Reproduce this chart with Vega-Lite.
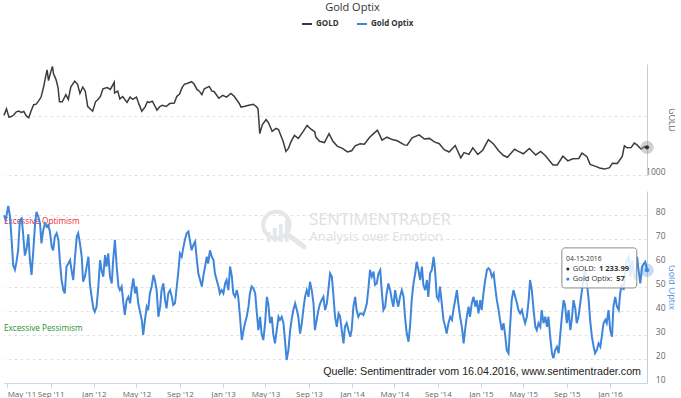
{
"$schema": "https://vega.github.io/schema/vega-lite/v6.json",
"background": "white",
"padding": {"left": 0, "top": 2, "right": 0, "bottom": 0},
"title": {"text": "Gold Optix", "fontSize": 11, "font": "Open Sans", "fontWeight": "normal", "color": "#333333", "anchor": "middle", "frame": "group", "dx": 27, "offset": 5},
"config": {"view": {"stroke": null}, "font": "Open Sans", "axis": {"labelFont": "Open Sans", "titleFont": "Open Sans", "labelOverlap": false, "labelBound": false}, "legend": {"labelFont": "Open Sans"}},
"spacing": 15,
"datasets": {
"gold": [
{"date":"2011-04-22","v":1505},{"date":"2011-04-29","v":1560},{"date":"2011-05-06","v":1490},{"date":"2011-05-13","v":1495},{"date":"2011-05-20","v":1510},{"date":"2011-05-27","v":1535},{"date":"2011-06-03","v":1542},{"date":"2011-06-10","v":1530},{"date":"2011-06-17","v":1538},{"date":"2011-06-24","v":1500},{"date":"2011-07-01","v":1485},{"date":"2011-07-08","v":1545},{"date":"2011-07-15","v":1595},{"date":"2011-07-22","v":1600},{"date":"2011-07-29","v":1628},{"date":"2011-08-05","v":1660},{"date":"2011-08-12","v":1745},{"date":"2011-08-19","v":1850},{"date":"2011-08-22","v":1890},{"date":"2011-08-26","v":1800},{"date":"2011-09-02","v":1880},{"date":"2011-09-06","v":1920},{"date":"2011-09-09","v":1860},{"date":"2011-09-16","v":1810},{"date":"2011-09-22","v":1740},{"date":"2011-09-26","v":1620},{"date":"2011-10-04","v":1620},{"date":"2011-10-14","v":1680},{"date":"2011-10-21","v":1640},{"date":"2011-10-28","v":1745},{"date":"2011-11-08","v":1795},{"date":"2011-11-16","v":1770},{"date":"2011-11-23","v":1690},{"date":"2011-12-01","v":1745},{"date":"2011-12-08","v":1710},{"date":"2011-12-15","v":1580},{"date":"2011-12-29","v":1540},
{"date":"2012-01-06","v":1620},{"date":"2012-01-13","v":1640},{"date":"2012-01-20","v":1665},{"date":"2012-01-27","v":1730},{"date":"2012-02-08","v":1740},{"date":"2012-02-17","v":1725},{"date":"2012-02-28","v":1785},{"date":"2012-02-29","v":1695},{"date":"2012-03-09","v":1710},{"date":"2012-03-15","v":1645},{"date":"2012-03-23","v":1665},{"date":"2012-04-04","v":1615},{"date":"2012-04-13","v":1660},{"date":"2012-04-20","v":1640},{"date":"2012-05-01","v":1660},{"date":"2012-05-08","v":1600},{"date":"2012-05-16","v":1540},{"date":"2012-05-25","v":1575},{"date":"2012-06-01","v":1620},{"date":"2012-06-06","v":1615},{"date":"2012-06-15","v":1625},{"date":"2012-06-28","v":1550},{"date":"2012-07-06","v":1580},{"date":"2012-07-13","v":1590},{"date":"2012-07-24","v":1580},{"date":"2012-08-03","v":1605},{"date":"2012-08-16","v":1610},{"date":"2012-08-23","v":1665},{"date":"2012-08-31","v":1685},{"date":"2012-09-07","v":1740},{"date":"2012-09-14","v":1770},{"date":"2012-09-21","v":1775},{"date":"2012-10-04","v":1790},{"date":"2012-10-11","v":1770},{"date":"2012-10-19","v":1725},{"date":"2012-10-26","v":1710},{"date":"2012-11-02","v":1680},{"date":"2012-11-09","v":1730},{"date":"2012-11-23","v":1750},{"date":"2012-11-30","v":1712},{"date":"2012-12-07","v":1705},{"date":"2012-12-20","v":1650},{"date":"2012-12-31","v":1675},
{"date":"2013-01-11","v":1660},{"date":"2013-01-23","v":1690},{"date":"2013-02-01","v":1668},{"date":"2013-02-15","v":1610},{"date":"2013-02-21","v":1575},{"date":"2013-03-01","v":1580},{"date":"2013-03-15","v":1590},{"date":"2013-03-28","v":1598},{"date":"2013-04-05","v":1580},{"date":"2013-04-10","v":1560},{"date":"2013-04-12","v":1480},{"date":"2013-04-15","v":1350},{"date":"2013-04-22","v":1425},{"date":"2013-05-03","v":1470},{"date":"2013-05-10","v":1440},{"date":"2013-05-20","v":1370},{"date":"2013-05-31","v":1395},{"date":"2013-06-07","v":1385},{"date":"2013-06-20","v":1285},{"date":"2013-06-28","v":1200},{"date":"2013-07-05","v":1225},{"date":"2013-07-12","v":1280},{"date":"2013-07-22","v":1335},{"date":"2013-08-02","v":1310},{"date":"2013-08-15","v":1365},{"date":"2013-08-27","v":1420},{"date":"2013-09-06","v":1390},{"date":"2013-09-18","v":1365},{"date":"2013-09-20","v":1325},{"date":"2013-10-01","v":1285},{"date":"2013-10-15","v":1275},{"date":"2013-10-28","v":1350},{"date":"2013-11-08","v":1285},{"date":"2013-11-20","v":1245},{"date":"2013-12-05","v":1225},{"date":"2013-12-19","v":1195},{"date":"2013-12-31","v":1205},
{"date":"2014-01-10","v":1247},{"date":"2014-01-24","v":1265},{"date":"2014-02-05","v":1260},{"date":"2014-02-20","v":1320},{"date":"2014-03-03","v":1350},{"date":"2014-03-14","v":1380},{"date":"2014-03-27","v":1295},{"date":"2014-04-10","v":1320},{"date":"2014-04-25","v":1300},{"date":"2014-05-09","v":1290},{"date":"2014-05-29","v":1255},{"date":"2014-06-06","v":1252},{"date":"2014-06-20","v":1315},{"date":"2014-07-10","v":1340},{"date":"2014-07-25","v":1305},{"date":"2014-08-08","v":1310},{"date":"2014-08-22","v":1280},{"date":"2014-09-05","v":1265},{"date":"2014-09-19","v":1215},{"date":"2014-10-03","v":1195},{"date":"2014-10-20","v":1250},{"date":"2014-11-05","v":1145},{"date":"2014-11-14","v":1190},{"date":"2014-11-28","v":1175},{"date":"2014-12-09","v":1230},{"date":"2014-12-23","v":1175},
{"date":"2015-01-06","v":1210},{"date":"2015-01-22","v":1300},{"date":"2015-02-05","v":1265},{"date":"2015-02-20","v":1205},{"date":"2015-03-06","v":1165},{"date":"2015-03-17","v":1150},{"date":"2015-04-06","v":1218},{"date":"2015-04-17","v":1200},{"date":"2015-05-01","v":1180},{"date":"2015-05-18","v":1225},{"date":"2015-06-05","v":1170},{"date":"2015-06-19","v":1200},{"date":"2015-07-02","v":1165},{"date":"2015-07-24","v":1085},{"date":"2015-08-05","v":1085},{"date":"2015-08-21","v":1160},{"date":"2015-09-04","v":1120},{"date":"2015-09-18","v":1137},{"date":"2015-10-05","v":1140},{"date":"2015-10-14","v":1185},{"date":"2015-10-28","v":1155},{"date":"2015-11-06","v":1090},{"date":"2015-11-20","v":1075},{"date":"2015-12-03","v":1060},{"date":"2015-12-17","v":1050},{"date":"2015-12-31","v":1062},
{"date":"2016-01-08","v":1100},{"date":"2016-01-22","v":1097},{"date":"2016-02-05","v":1158},{"date":"2016-02-11","v":1247},{"date":"2016-02-19","v":1230},{"date":"2016-03-01","v":1232},{"date":"2016-03-10","v":1270},{"date":"2016-03-18","v":1255},{"date":"2016-03-29","v":1220},{"date":"2016-04-08","v":1240},{"date":"2016-04-15","v":1233.99}
],
"optix": [
{"date":"2011-04-22","v":79.9},{"date":"2011-04-27","v":77.9},{"date":"2011-05-04","v":83.8},{"date":"2011-05-09","v":79.3},{"date":"2011-05-13","v":71.0},{"date":"2011-05-18","v":59.1},{"date":"2011-05-23","v":57.2},{"date":"2011-05-28","v":61.1},{"date":"2011-06-01","v":65.3},{"date":"2011-06-06","v":77.9},{"date":"2011-06-11","v":78.6},{"date":"2011-06-15","v":72.4},{"date":"2011-06-20","v":63.1},{"date":"2011-06-25","v":66.0},{"date":"2011-06-30","v":72.0},{"date":"2011-07-04","v":61.9},{"date":"2011-07-09","v":55.0},{"date":"2011-07-14","v":65.3},{"date":"2011-07-19","v":76.5},{"date":"2011-07-23","v":81.3},{"date":"2011-07-28","v":79.3},{"date":"2011-08-02","v":76.5},{"date":"2011-08-06","v":68.2},{"date":"2011-08-11","v":73.7},{"date":"2011-08-16","v":76.5},{"date":"2011-08-21","v":75.1},{"date":"2011-08-25","v":75.8},{"date":"2011-08-30","v":73.1},{"date":"2011-09-04","v":66.8},{"date":"2011-09-08","v":65.3},{"date":"2011-09-13","v":71.0},{"date":"2011-09-18","v":72.4},{"date":"2011-09-23","v":69.6},{"date":"2011-09-27","v":61.2},{"date":"2011-10-02","v":52.9},{"date":"2011-10-07","v":48.7},{"date":"2011-10-11","v":47.3},{"date":"2011-10-16","v":58.5},{"date":"2011-10-21","v":59.8},{"date":"2011-10-26","v":61.2},{"date":"2011-10-30","v":57.1},{"date":"2011-11-04","v":52.9},{"date":"2011-11-09","v":62.6},{"date":"2011-11-14","v":71.0},{"date":"2011-11-18","v":72.4},{"date":"2011-11-23","v":68.2},{"date":"2011-11-28","v":62.6},{"date":"2011-12-02","v":52.2},{"date":"2011-12-07","v":54.3},{"date":"2011-12-12","v":58.5},{"date":"2011-12-17","v":62.6},{"date":"2011-12-21","v":51.5},{"date":"2011-12-26","v":45.9},{"date":"2011-12-31","v":41.1},
{"date":"2012-01-04","v":39.7},{"date":"2012-01-09","v":41.8},{"date":"2012-01-14","v":50.2},{"date":"2012-01-19","v":61.2},{"date":"2012-01-23","v":57.1},{"date":"2012-01-28","v":54.3},{"date":"2012-02-02","v":63.3},{"date":"2012-02-06","v":58.5},{"date":"2012-02-11","v":64.0},{"date":"2012-02-16","v":54.3},{"date":"2012-02-21","v":51.5},{"date":"2012-02-25","v":61.2},{"date":"2012-03-01","v":69.6},{"date":"2012-03-06","v":58.5},{"date":"2012-03-11","v":50.2},{"date":"2012-03-15","v":48.7},{"date":"2012-03-20","v":50.2},{"date":"2012-03-25","v":43.2},{"date":"2012-03-29","v":38.4},{"date":"2012-04-03","v":44.5},{"date":"2012-04-08","v":45.9},{"date":"2012-04-13","v":43.2},{"date":"2012-04-17","v":48.7},{"date":"2012-04-22","v":53.6},{"date":"2012-04-27","v":47.3},{"date":"2012-05-01","v":50.2},{"date":"2012-05-06","v":43.2},{"date":"2012-05-11","v":39.7},{"date":"2012-05-16","v":36.3},{"date":"2012-05-20","v":30.0},{"date":"2012-05-25","v":36.3},{"date":"2012-05-30","v":41.8},{"date":"2012-06-03","v":40.4},{"date":"2012-06-08","v":47.3},{"date":"2012-06-13","v":50.2},{"date":"2012-06-18","v":55.0},{"date":"2012-06-22","v":52.9},{"date":"2012-06-27","v":48.7},{"date":"2012-07-02","v":37.6},{"date":"2012-07-07","v":41.8},{"date":"2012-07-11","v":48.7},{"date":"2012-07-16","v":51.5},{"date":"2012-07-21","v":44.5},{"date":"2012-07-25","v":41.1},{"date":"2012-07-30","v":47.3},{"date":"2012-08-04","v":48.7},{"date":"2012-08-09","v":45.9},{"date":"2012-08-13","v":42.5},{"date":"2012-08-18","v":43.2},{"date":"2012-08-23","v":50.2},{"date":"2012-08-27","v":55.7},{"date":"2012-09-01","v":64.0},{"date":"2012-09-06","v":62.6},{"date":"2012-09-11","v":66.8},{"date":"2012-09-15","v":69.6},{"date":"2012-09-20","v":72.4},{"date":"2012-09-25","v":73.1},{"date":"2012-09-29","v":69.6},{"date":"2012-10-04","v":65.3},{"date":"2012-10-09","v":67.5},{"date":"2012-10-14","v":68.9},{"date":"2012-10-18","v":62.6},{"date":"2012-10-23","v":55.7},{"date":"2012-10-28","v":52.9},{"date":"2012-11-02","v":50.2},{"date":"2012-11-06","v":54.3},{"date":"2012-11-11","v":58.5},{"date":"2012-11-16","v":62.6},{"date":"2012-11-20","v":59.8},{"date":"2012-11-25","v":65.3},{"date":"2012-11-30","v":62.6},{"date":"2012-12-05","v":61.2},{"date":"2012-12-09","v":55.7},{"date":"2012-12-14","v":52.9},{"date":"2012-12-19","v":50.2},{"date":"2012-12-23","v":47.3},{"date":"2012-12-28","v":48.7},
{"date":"2013-01-02","v":47.3},{"date":"2013-01-07","v":51.5},{"date":"2013-01-11","v":52.9},{"date":"2013-01-16","v":48.7},{"date":"2013-01-21","v":58.5},{"date":"2013-01-26","v":54.3},{"date":"2013-01-30","v":47.3},{"date":"2013-02-04","v":45.9},{"date":"2013-02-09","v":48.7},{"date":"2013-02-13","v":45.9},{"date":"2013-02-18","v":37.6},{"date":"2013-02-23","v":27.9},{"date":"2013-02-28","v":32.0},{"date":"2013-03-04","v":34.9},{"date":"2013-03-09","v":37.6},{"date":"2013-03-14","v":41.8},{"date":"2013-03-18","v":47.3},{"date":"2013-03-23","v":50.2},{"date":"2013-03-28","v":49.5},{"date":"2013-04-02","v":47.3},{"date":"2013-04-06","v":40.4},{"date":"2013-04-11","v":32.0},{"date":"2013-04-16","v":37.6},{"date":"2013-04-20","v":30.6},{"date":"2013-04-25","v":27.9},{"date":"2013-04-30","v":34.9},{"date":"2013-05-05","v":45.9},{"date":"2013-05-09","v":43.2},{"date":"2013-05-14","v":34.9},{"date":"2013-05-19","v":37.6},{"date":"2013-05-23","v":30.6},{"date":"2013-05-28","v":26.5},{"date":"2013-06-02","v":32.0},{"date":"2013-06-07","v":37.6},{"date":"2013-06-11","v":36.3},{"date":"2013-06-16","v":37.6},{"date":"2013-06-21","v":34.9},{"date":"2013-06-26","v":26.5},{"date":"2013-06-30","v":19.6},{"date":"2013-07-05","v":23.7},{"date":"2013-07-10","v":32.0},{"date":"2013-07-14","v":36.3},{"date":"2013-07-19","v":40.4},{"date":"2013-07-24","v":43.2},{"date":"2013-07-29","v":40.4},{"date":"2013-08-02","v":37.6},{"date":"2013-08-07","v":30.6},{"date":"2013-08-12","v":34.9},{"date":"2013-08-16","v":40.4},{"date":"2013-08-21","v":45.9},{"date":"2013-08-26","v":48.7},{"date":"2013-08-31","v":45.9},{"date":"2013-09-04","v":52.2},{"date":"2013-09-09","v":48.7},{"date":"2013-09-14","v":43.2},{"date":"2013-09-18","v":32.0},{"date":"2013-09-23","v":36.3},{"date":"2013-09-28","v":40.4},{"date":"2013-10-03","v":43.2},{"date":"2013-10-07","v":44.5},{"date":"2013-10-12","v":45.9},{"date":"2013-10-17","v":40.4},{"date":"2013-10-22","v":43.2},{"date":"2013-10-26","v":48.7},{"date":"2013-10-31","v":55.7},{"date":"2013-11-05","v":54.3},{"date":"2013-11-09","v":47.3},{"date":"2013-11-14","v":37.6},{"date":"2013-11-19","v":33.4},{"date":"2013-11-24","v":39.0},{"date":"2013-11-28","v":37.9},{"date":"2013-12-03","v":32.0},{"date":"2013-12-08","v":26.5},{"date":"2013-12-12","v":33.4},{"date":"2013-12-17","v":34.9},{"date":"2013-12-22","v":32.0},{"date":"2013-12-27","v":29.3},{"date":"2013-12-31","v":32.0},
{"date":"2014-01-05","v":41.8},{"date":"2014-01-10","v":45.9},{"date":"2014-01-14","v":40.4},{"date":"2014-01-19","v":37.6},{"date":"2014-01-24","v":39.0},{"date":"2014-01-29","v":39.0},{"date":"2014-02-02","v":38.3},{"date":"2014-02-07","v":40.4},{"date":"2014-02-12","v":43.2},{"date":"2014-02-17","v":50.2},{"date":"2014-02-21","v":57.1},{"date":"2014-02-26","v":54.3},{"date":"2014-03-03","v":56.4},{"date":"2014-03-07","v":50.9},{"date":"2014-03-12","v":51.5},{"date":"2014-03-17","v":55.7},{"date":"2014-03-22","v":57.1},{"date":"2014-03-26","v":48.7},{"date":"2014-03-31","v":40.4},{"date":"2014-04-05","v":41.8},{"date":"2014-04-09","v":47.3},{"date":"2014-04-14","v":51.5},{"date":"2014-04-19","v":48.7},{"date":"2014-04-24","v":44.5},{"date":"2014-04-28","v":41.8},{"date":"2014-05-03","v":48.7},{"date":"2014-05-08","v":44.5},{"date":"2014-05-12","v":41.8},{"date":"2014-05-17","v":45.9},{"date":"2014-05-22","v":48.7},{"date":"2014-05-27","v":45.9},{"date":"2014-05-31","v":37.6},{"date":"2014-06-05","v":30.6},{"date":"2014-06-10","v":27.2},{"date":"2014-06-15","v":34.9},{"date":"2014-06-19","v":44.5},{"date":"2014-06-24","v":51.5},{"date":"2014-06-29","v":55.7},{"date":"2014-07-03","v":60.5},{"date":"2014-07-08","v":57.1},{"date":"2014-07-13","v":52.9},{"date":"2014-07-18","v":58.5},{"date":"2014-07-22","v":50.9},{"date":"2014-07-27","v":48.7},{"date":"2014-08-01","v":52.9},{"date":"2014-08-05","v":45.9},{"date":"2014-08-10","v":55.7},{"date":"2014-08-15","v":57.1},{"date":"2014-08-20","v":62.6},{"date":"2014-08-24","v":57.1},{"date":"2014-08-29","v":45.9},{"date":"2014-09-03","v":44.5},{"date":"2014-09-07","v":50.2},{"date":"2014-09-12","v":43.2},{"date":"2014-09-17","v":36.3},{"date":"2014-09-22","v":33.4},{"date":"2014-09-26","v":30.6},{"date":"2014-10-01","v":34.9},{"date":"2014-10-06","v":37.6},{"date":"2014-10-11","v":36.3},{"date":"2014-10-15","v":40.4},{"date":"2014-10-20","v":44.5},{"date":"2014-10-25","v":48.7},{"date":"2014-10-29","v":43.2},{"date":"2014-11-03","v":37.6},{"date":"2014-11-08","v":33.4},{"date":"2014-11-13","v":26.5},{"date":"2014-11-17","v":32.0},{"date":"2014-11-22","v":37.6},{"date":"2014-11-27","v":41.8},{"date":"2014-12-01","v":37.6},{"date":"2014-12-06","v":43.2},{"date":"2014-12-11","v":45.9},{"date":"2014-12-16","v":41.8},{"date":"2014-12-20","v":44.5},{"date":"2014-12-25","v":39.0},{"date":"2014-12-30","v":44.5},
{"date":"2015-01-03","v":40.4},{"date":"2015-01-08","v":47.3},{"date":"2015-01-13","v":52.9},{"date":"2015-01-18","v":57.1},{"date":"2015-01-22","v":57.8},{"date":"2015-01-27","v":57.1},{"date":"2015-02-01","v":54.3},{"date":"2015-02-06","v":55.7},{"date":"2015-02-10","v":50.2},{"date":"2015-02-15","v":44.5},{"date":"2015-02-20","v":40.4},{"date":"2015-02-24","v":36.3},{"date":"2015-03-01","v":32.0},{"date":"2015-03-06","v":34.9},{"date":"2015-03-11","v":29.3},{"date":"2015-03-15","v":23.7},{"date":"2015-03-20","v":22.4},{"date":"2015-03-25","v":34.9},{"date":"2015-03-29","v":44.5},{"date":"2015-04-03","v":48.7},{"date":"2015-04-08","v":45.9},{"date":"2015-04-13","v":43.2},{"date":"2015-04-17","v":40.4},{"date":"2015-04-22","v":39.0},{"date":"2015-04-27","v":40.4},{"date":"2015-05-01","v":37.6},{"date":"2015-05-06","v":34.9},{"date":"2015-05-11","v":37.6},{"date":"2015-05-16","v":44.5},{"date":"2015-05-20","v":52.9},{"date":"2015-05-25","v":48.7},{"date":"2015-05-30","v":40.4},{"date":"2015-06-04","v":33.4},{"date":"2015-06-08","v":32.0},{"date":"2015-06-13","v":34.9},{"date":"2015-06-18","v":33.4},{"date":"2015-06-22","v":40.4},{"date":"2015-06-27","v":34.9},{"date":"2015-07-02","v":37.6},{"date":"2015-07-07","v":33.4},{"date":"2015-07-11","v":37.6},{"date":"2015-07-16","v":29.3},{"date":"2015-07-21","v":22.4},{"date":"2015-07-25","v":20.3},{"date":"2015-07-30","v":23.7},{"date":"2015-08-04","v":25.1},{"date":"2015-08-09","v":22.4},{"date":"2015-08-13","v":29.3},{"date":"2015-08-18","v":37.6},{"date":"2015-08-23","v":44.5},{"date":"2015-08-27","v":42.5},{"date":"2015-09-01","v":34.9},{"date":"2015-09-06","v":40.4},{"date":"2015-09-11","v":32.0},{"date":"2015-09-15","v":36.3},{"date":"2015-09-20","v":44.5},{"date":"2015-09-25","v":41.1},{"date":"2015-09-29","v":34.9},{"date":"2015-10-04","v":37.6},{"date":"2015-10-09","v":43.2},{"date":"2015-10-14","v":48.7},{"date":"2015-10-18","v":53.2},{"date":"2015-10-23","v":58.2},{"date":"2015-10-28","v":51.3},{"date":"2015-11-02","v":44.5},{"date":"2015-11-06","v":36.3},{"date":"2015-11-11","v":29.3},{"date":"2015-11-16","v":25.1},{"date":"2015-11-20","v":22.4},{"date":"2015-11-25","v":23.7},{"date":"2015-11-30","v":26.5},{"date":"2015-12-05","v":25.1},{"date":"2015-12-09","v":29.3},{"date":"2015-12-14","v":34.9},{"date":"2015-12-19","v":36.3},{"date":"2015-12-23","v":34.9},{"date":"2015-12-28","v":40.4},
{"date":"2016-01-02","v":32.0},{"date":"2016-01-07","v":29.3},{"date":"2016-01-11","v":41.8},{"date":"2016-01-16","v":45.9},{"date":"2016-01-21","v":41.8},{"date":"2016-01-26","v":40.4},{"date":"2016-01-30","v":47.3},{"date":"2016-02-04","v":51.5},{"date":"2016-02-09","v":48.7},{"date":"2016-02-14","v":58.5},{"date":"2016-02-18","v":61.2},{"date":"2016-02-23","v":62.6},{"date":"2016-02-28","v":54.3},{"date":"2016-03-04","v":61.2},{"date":"2016-03-08","v":55.7},{"date":"2016-03-13","v":52.9},{"date":"2016-03-18","v":62.6},{"date":"2016-03-22","v":57.1},{"date":"2016-03-27","v":51.5},{"date":"2016-04-01","v":58.5},{"date":"2016-04-06","v":59.8},{"date":"2016-04-10","v":60.5},{"date":"2016-04-15","v":57}
],
"logobars": [
{"date":"2013-05-05","date2":"2013-05-16","v":68.8,"v2":72.9},
{"date":"2013-05-22","date2":"2013-06-02","v":68.8,"v2":74.6},
{"date":"2013-06-08","date2":"2013-06-19","v":68.8,"v2":76.3},
{"date":"2013-06-25","date2":"2013-07-06","v":68.8,"v2":77.9}
]
},
"vconcat": [
{
"width": 643, "height": 111,
"layer": [
{"data": {"name": "gold"},
 "mark": {"type": "line", "strokeWidth": 1.5},
 "encoding": {
  "x": {"field": "date", "type": "temporal", "scale": {"type": "utc", "domain": [{"year": 2011, "month": 4, "date": 22, "utc": true}, {"year": 2016, "month": 4, "date": 15, "utc": true}]}, "axis": null},
  "y": {"field": "v", "type": "quantitative", "scale": {"domain": [1000, 1940], "nice": false, "zero": false},
        "axis": {"orient": "right", "values": [1000, 1500], "tickCount": 2, "labelExpr": "datum.value == 1000 ? '1000' : ''", "labelOverlap": false, "labelSeparation": 0, "grid": true, "gridDash": [3, 3], "gridColor": "#e2e2e2", "domain": true, "domainColor": "#cccccc", "ticks": false, "tickSize": 0, "labelAlign": "right", "labelPadding": 18, "labelOffset": -4, "labelFontSize": 8.5, "labelColor": "#666666", "title": "GOLD", "titleColor": "#666666", "titleFontSize": 8.5, "titleFontWeight": "normal", "titlePadding": 1, "titleAngle": 90}},
  "color": {"datum": "GOLD", "type": "nominal", "scale": {"domain": ["GOLD", "Gold Optix"], "range": ["#3c3c40", "#3f86da"]},
            "legend": {"orient": "none", "legendX": 297, "legendY": -46, "direction": "horizontal", "title": null, "symbolType": "stroke", "symbolStrokeWidth": 2, "symbolSize": 100, "labelFontWeight": "bold", "labelFontSize": 8, "labelColor": "#333333", "columnPadding": 14, "labelOffset": 3}}
 }},
{"data": {"values": [{"date": "2016-04-15", "v": 1233.99}]},
 "mark": {"type": "point", "filled": true, "size": 180, "color": "#999999", "opacity": 0.45},
 "encoding": {"x": {"field": "date", "type": "temporal"}, "y": {"field": "v", "type": "quantitative"}}},
{"data": {"values": [{"date": "2016-04-15", "v": 1233.99}]},
 "mark": {"type": "point", "filled": true, "size": 18, "color": "#333333", "opacity": 1},
 "encoding": {"x": {"field": "date", "type": "temporal"}, "y": {"field": "v", "type": "quantitative"}}}
]
},
{
"width": 643, "height": 192,
"layer": [
{"data": {"values": [{"date": "2013-06-01", "v": 75.8}]},
 "mark": {"type": "point", "shape": "circle", "filled": false, "size": 700, "stroke": "#e6e6e6", "strokeWidth": 4, "opacity": 1},
 "encoding": {"x": {"field": "date", "type": "temporal", "scale": {"type": "utc", "domain": [{"year": 2011, "month": 4, "date": 22, "utc": true}, {"year": 2016, "month": 4, "date": 15, "utc": true}]},
   "axis": {"orient": "bottom", "values": [{"year": 2011, "month": 5, "date": 1, "utc": true}, {"year": 2011, "month": 9, "date": 1, "utc": true}, {"year": 2012, "month": 1, "date": 1, "utc": true}, {"year": 2012, "month": 5, "date": 1, "utc": true}, {"year": 2012, "month": 9, "date": 1, "utc": true}, {"year": 2013, "month": 1, "date": 1, "utc": true}, {"year": 2013, "month": 5, "date": 1, "utc": true}, {"year": 2013, "month": 9, "date": 1, "utc": true}, {"year": 2014, "month": 1, "date": 1, "utc": true}, {"year": 2014, "month": 5, "date": 1, "utc": true}, {"year": 2014, "month": 9, "date": 1, "utc": true}, {"year": 2015, "month": 1, "date": 1, "utc": true}, {"year": 2015, "month": 5, "date": 1, "utc": true}, {"year": 2015, "month": 9, "date": 1, "utc": true}, {"year": 2016, "month": 1, "date": 1, "utc": true}],
     "format": "%b '%y", "labelOverlap": false, "labelFontSize": 8, "labelColor": "#666666", "tickColor": "#ccd6eb", "domainColor": "#ccd6eb", "tickSize": 5, "labelPadding": 2, "grid": false, "title": null, "labelFlush": 10}},
  "y": {"field": "v", "type": "quantitative", "scale": {"domain": [10, 90], "nice": false, "zero": false},
   "axis": {"orient": "right", "values": [10, 20, 30, 40, 50, 60, 70, 80], "tickCount": 9, "labelOverlap": false, "labelSeparation": 0, "grid": true, "gridDash": [3, 3], "gridColor": "#e2e2e2", "domain": true, "domainColor": "#cccccc", "ticks": false, "tickSize": 0, "labelAlign": "right", "labelPadding": 18, "labelOffset": -4, "labelFontSize": 8.5, "labelColor": "#666666", "title": "Gold Optix", "titleColor": "#4a8fe0", "titleFontSize": 9, "titleFontWeight": "normal", "titlePadding": 1, "titleAngle": 90}}}},
{"data": {"name": "logobars"},
 "mark": {"type": "rect", "color": "#e3e8ef"},
 "encoding": {"x": {"field": "date", "type": "temporal"}, "x2": {"field": "date2"}, "y": {"field": "v", "type": "quantitative"}, "y2": {"field": "v2"}}},
{"data": {"values": [{"date": "2013-07-08", "v": 71.3, "date2": "2013-08-19", "v2": 66.7}]},
 "mark": {"type": "rule", "color": "#e6e6e6", "strokeWidth": 5, "strokeCap": "round"},
 "encoding": {"x": {"field": "date", "type": "temporal"}, "x2": {"field": "date2"}, "y": {"field": "v", "type": "quantitative"}, "y2": {"field": "v2"}}},
{"data": {"values": [{"date": "2013-09-02", "v": 78, "label": "SENTIMENTRADER"}]},
 "mark": {"type": "text", "align": "left", "baseline": "middle", "fontSize": 16.5, "font": "Open Sans", "color": "#e0e0e0"},
 "encoding": {"x": {"field": "date", "type": "temporal"}, "y": {"field": "v", "type": "quantitative"}, "text": {"field": "label"}}},
{"data": {"values": [{"date": "2013-09-03", "v": 70.9, "label": "Analysis over Emotion"}]},
 "mark": {"type": "text", "align": "left", "baseline": "middle", "fontSize": 13, "font": "Open Sans", "color": "#e0e0e0"},
 "encoding": {"x": {"field": "date", "type": "temporal"}, "y": {"field": "v", "type": "quantitative"}, "text": {"field": "label"}}},
{"mark": {"type": "rule", "color": "#ff1f35", "strokeWidth": 1.5, "strokeDash": [4, 3]},
 "encoding": {"y": {"datum": 75, "type": "quantitative"}}},
{"mark": {"type": "rule", "color": "#229a33", "strokeWidth": 1.5, "strokeDash": [4, 3]},
 "encoding": {"y": {"datum": 30, "type": "quantitative"}}},
{"data": {"values": [{"date": "2011-04-22", "v": 77.1, "label": "Excessive Optimism"}]},
 "mark": {"type": "text", "align": "left", "baseline": "middle", "fontSize": 8.2, "font": "Open Sans", "color": "#f01e32"},
 "encoding": {"x": {"field": "date", "type": "temporal"}, "y": {"field": "v", "type": "quantitative"}, "text": {"field": "label"}}},
{"data": {"values": [{"date": "2011-04-22", "v": 32.4, "label": "Excessive Pessimism"}]},
 "mark": {"type": "text", "align": "left", "baseline": "middle", "fontSize": 8.2, "font": "Open Sans", "color": "#1f8f2c"},
 "encoding": {"x": {"field": "date", "type": "temporal"}, "y": {"field": "v", "type": "quantitative"}, "text": {"field": "label"}}},
{"data": {"name": "optix"},
 "mark": {"type": "line", "strokeWidth": 2},
 "encoding": {"x": {"field": "date", "type": "temporal"}, "y": {"field": "v", "type": "quantitative"},
  "color": {"datum": "Gold Optix", "type": "nominal"}}},
{"data": {"values": [{"date": "2016-04-15", "v": 57}]},
 "mark": {"type": "point", "filled": true, "size": 180, "color": "#3f86da", "opacity": 0.3},
 "encoding": {"x": {"field": "date", "type": "temporal"}, "y": {"field": "v", "type": "quantitative"}}},
{"data": {"values": [{"date": "2016-04-15", "v": 57}]},
 "mark": {"type": "point", "filled": true, "size": 18, "color": "#3f86da", "opacity": 1},
 "encoding": {"x": {"field": "date", "type": "temporal"}, "y": {"field": "v", "type": "quantitative"}}},
{"data": {"values": [{"date": "2016-03-29", "v": 14.4, "label": "Quelle: Sentimenttrader vom 16.04.2016, www.sentimentrader.com"}]},
 "mark": {"type": "text", "align": "right", "baseline": "middle", "fontSize": 10.7, "font": "Liberation Sans", "color": "#222222"},
 "encoding": {"x": {"field": "date", "type": "temporal"}, "y": {"field": "v", "type": "quantitative"}, "text": {"field": "label"}}},
{"data": {"values": [{"date": "2015-08-18", "v": 66.3, "date2": "2016-03-17", "v2": 49.6}]},
 "mark": {"type": "rect", "fill": "#ffffff", "fillOpacity": 0.85, "stroke": "#8c8c8c", "strokeWidth": 1, "cornerRadius": 3},
 "encoding": {"x": {"field": "date", "type": "temporal"}, "x2": {"field": "date2"}, "y": {"field": "v", "type": "quantitative"}, "y2": {"field": "v2"}}},
{"data": {"values": [{"date": "2015-08-30", "v": 61.7, "label": "04-15-2016"}]},
 "mark": {"type": "text", "align": "left", "baseline": "middle", "fontSize": 6.8, "font": "Open Sans", "color": "#333333"},
 "encoding": {"x": {"field": "date", "type": "temporal"}, "y": {"field": "v", "type": "quantitative"}, "text": {"field": "label"}}},
{"data": {"values": [{"date": "2015-09-18", "v": 57.5, "label": "GOLD:"}, {"date": "2015-09-18", "v": 53.3, "label": "Gold Optix:"}]},
 "mark": {"type": "text", "align": "left", "baseline": "middle", "fontSize": 7.6, "font": "Open Sans", "color": "#333333"},
 "encoding": {"x": {"field": "date", "type": "temporal"}, "y": {"field": "v", "type": "quantitative"}, "text": {"field": "label"}}},
{"data": {"values": [{"date": "2015-12-01", "v": 57.5, "label": "1 233.99"}, {"date": "2016-01-19", "v": 53.3, "label": "57"}]},
 "mark": {"type": "text", "align": "left", "baseline": "middle", "fontSize": 7.6, "font": "Open Sans", "fontWeight": "bold", "color": "#333333"},
 "encoding": {"x": {"field": "date", "type": "temporal"}, "y": {"field": "v", "type": "quantitative"}, "text": {"field": "label"}}},
{"data": {"values": [{"date": "2015-09-04", "v": 57.5}]},
 "mark": {"type": "point", "filled": true, "size": 10, "color": "#333333", "opacity": 1},
 "encoding": {"x": {"field": "date", "type": "temporal"}, "y": {"field": "v", "type": "quantitative"}}},
{"data": {"values": [{"date": "2015-09-04", "v": 53.3}]},
 "mark": {"type": "point", "filled": true, "size": 10, "color": "#3f86da", "opacity": 1},
 "encoding": {"x": {"field": "date", "type": "temporal"}, "y": {"field": "v", "type": "quantitative"}}}
]
}
]
}
